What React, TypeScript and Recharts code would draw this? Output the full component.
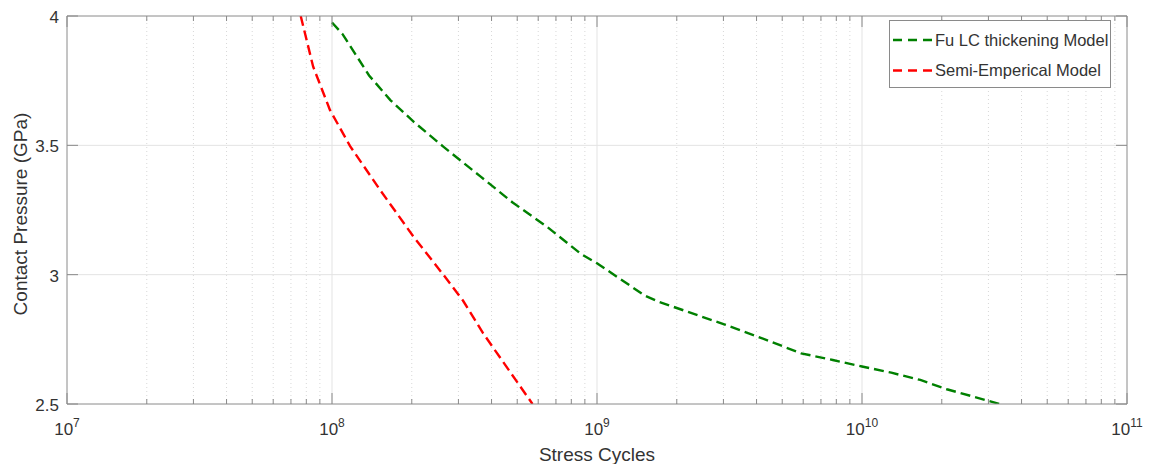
import React from 'react';
import { LineChart, Line, XAxis, YAxis, ReferenceLine, Legend } from 'recharts';

// ---- data ----
const xMajorTicks = [1e7, 1e8, 1e9, 1e10, 1e11];
const xMinorMultipliers = [2, 3, 4, 5, 6, 7, 8, 9];
const yTicks = [2.5, 3, 3.5, 4];
const seriesNames = ['Fu LC thickening Model', 'Semi-Emperical Model'];

const fuCycles = [1.0e8, 1.096e8, 1.38e8, 1.66e8, 2.04e8, 2.63e8, 3.63e8, 4.79e8, 6.46e8, 8.71e8, 1.0e9, 1.51e9, 1.7e9, 3.02e9, 3.98e9, 5.89e9, 7.76e9, 1.0e10, 1.29e10, 1.66e10, 2.09e10, 3.31e10];
const fuPressure = [3.975, 3.93, 3.77, 3.675, 3.59, 3.495, 3.38, 3.28, 3.186, 3.08, 3.044, 2.92, 2.896, 2.808, 2.763, 2.696, 2.67, 2.645, 2.621, 2.593, 2.557, 2.5];

const semiCycles = [7.62e7, 8.49e7, 9.82e7, 1.17e8, 1.52e8, 2.03e8, 2.63e8, 3.12e8, 3.72e8, 5.71e8];
const semiPressure = [4.0, 3.804, 3.637, 3.497, 3.327, 3.147, 3.0, 2.9, 2.773, 2.5];

// ---- derived ----
const fuData = fuCycles.map((x, i) => ({ x, y: fuPressure[i] }));
const semiData = semiCycles.map((x, i) => ({ x, y: semiPressure[i] }));
const xMinorTicks = xMajorTicks.slice(0, -1).flatMap((d) => xMinorMultipliers.map((m) => m * d));
const xAllTicks = [...xMajorTicks, ...xMinorTicks].sort((a, b) => a - b);
const majorInner = xMajorTicks.slice(1, -1);
const yInner = yTicks.slice(1, -1);

const FONT = '"Liberation Sans", Arial, Helvetica, sans-serif';
const AXIS = '#8a8a8a';
const TEXT = '#333333';
const GRID = '#e3e3e3';
const MINOR = '#d8d8d8';
const DASH = '10 5';
const LW = 2.4;

const isMajor = (v: number) => xMajorTicks.indexOf(v) >= 0;

const BottomTick = (props: any) => {
  const { x, y, payload } = props;
  const v = payload.value;
  const major = isMajor(v);
  const exp = Math.round(Math.log10(v));
  return (
    <g>
      <line x1={x} x2={x} y1={y} y2={y - (major ? 11 : 5)} stroke={AXIS} strokeWidth={1} />
      {major && (
        <text x={x} y={y + 31} textAnchor="middle" fontFamily={FONT} fontSize={17} fill={TEXT}>
          10<tspan fontSize={12} dy={-8}>{exp}</tspan>
        </text>
      )}
    </g>
  );
};

const TopTick = (props: any) => {
  const { x, y, payload } = props;
  const major = isMajor(payload.value);
  return <line x1={x} x2={x} y1={y} y2={y + (major ? 11 : 5)} stroke={AXIS} strokeWidth={1} />;
};

const LeftTick = (props: any) => {
  const { x, y, payload } = props;
  return (
    <g>
      <line x1={x} x2={x + 11} y1={y} y2={y} stroke={AXIS} strokeWidth={1} />
      <text x={x - 8} y={y + 1} dy="0.36em" textAnchor="end" fontFamily={FONT} fontSize={17} fill={TEXT}>
        {payload.value}
      </text>
    </g>
  );
};

const RightTick = (props: any) => {
  const { x, y } = props;
  return <line x1={x} x2={x - 11} y1={y} y2={y} stroke={AXIS} strokeWidth={1} />;
};

const XLabel = (props: any) => {
  const vb = props.viewBox || {};
  return (
    <text x={vb.x + vb.width / 2} y={vb.y + 57} textAnchor="middle" fontFamily={FONT} fontSize={19} fill={TEXT}>
      Stress Cycles
    </text>
  );
};

const YLabel = (props: any) => {
  const vb = props.viewBox || {};
  const cx = 19;
  const cy = vb.y + vb.height / 2 + 4;
  return (
    <text x={cx} y={cy} transform={`rotate(-90 ${cx} ${cy})`} textAnchor="middle" fontFamily={FONT} fontSize={19} fill={TEXT}>
      Contact Pressure (GPa)
    </text>
  );
};

const LegendBox = (props: any) => {
  const payload = props.payload || [];
  return (
    <svg width={222} height={68} style={{ display: 'block' }}>
      <rect x={0.5} y={0.5} width={221} height={67} fill="#ffffff" stroke={AXIS} strokeWidth={1} />
      {payload.map((p: any, i: number) => {
        const cy = 20 + 30.5 * i;
        return (
          <g key={i}>
            <line x1={4} x2={43} y1={cy} y2={cy} stroke={p.color} strokeWidth={LW} strokeDasharray="9 6" />
            <text x={46} y={cy} dy="0.36em" fontFamily={FONT} fontSize={16.5} fill={TEXT}>
              {p.value}
            </text>
          </g>
        );
      })}
    </svg>
  );
};

export default function App() {
  return (
    <div style={{ width: 1143, height: 456, background: '#ffffff' }}>
      <LineChart width={1143} height={456} margin={{ top: 0, right: 0, bottom: 0, left: 0 }}>
        <XAxis
          xAxisId="bottom"
          dataKey="x"
          type="number"
          scale="log"
          domain={[1e7, 1e11]}
          allowDataOverflow
          ticks={xAllTicks}
          interval={0}
          height={60}
          stroke={AXIS}
          tickLine={false}
          tickSize={0}
          tickMargin={0}
          tick={<BottomTick />}
          label={<XLabel />}
        />
        <XAxis
          xAxisId="top"
          orientation="top"
          dataKey="x"
          type="number"
          scale="log"
          domain={[1e7, 1e11]}
          allowDataOverflow
          ticks={xAllTicks}
          interval={0}
          height={8}
          stroke={AXIS}
          tickLine={false}
          tickSize={0}
          tickMargin={0}
          tick={<TopTick />}
        />
        <YAxis
          yAxisId="left"
          type="number"
          domain={[2.5, 4]}
          allowDataOverflow
          ticks={yTicks}
          interval={0}
          width={59}
          stroke={AXIS}
          tickLine={false}
          tickSize={0}
          tickMargin={0}
          tick={<LeftTick />}
          label={<YLabel />}
        />
        <YAxis
          yAxisId="right"
          orientation="right"
          type="number"
          domain={[2.5, 4]}
          allowDataOverflow
          ticks={yTicks}
          interval={0}
          width={24}
          stroke={AXIS}
          tickLine={false}
          tickSize={0}
          tickMargin={0}
          tick={<RightTick />}
        />
        {xMinorTicks.map((v) => (
          <ReferenceLine key={'m' + v} xAxisId="bottom" yAxisId="left" x={v} stroke={MINOR} strokeWidth={1} strokeDasharray="1 3" />
        ))}
        {majorInner.map((v) => (
          <ReferenceLine key={'M' + v} xAxisId="bottom" yAxisId="left" x={v} stroke={GRID} strokeWidth={1} />
        ))}
        {yInner.map((v) => (
          <ReferenceLine key={'y' + v} xAxisId="bottom" yAxisId="left" y={v} stroke={GRID} strokeWidth={1} />
        ))}
        <Line
          xAxisId="bottom"
          yAxisId="left"
          data={fuData}
          dataKey="y"
          name={seriesNames[0]}
          type="linear"
          stroke="#008000"
          strokeWidth={LW}
          strokeDasharray={DASH}
          dot={false}
          activeDot={false}
          isAnimationActive={false}
        />
        <Line
          xAxisId="bottom"
          yAxisId="left"
          data={semiData}
          dataKey="y"
          name={seriesNames[1]}
          type="linear"
          stroke="#ff0000"
          strokeWidth={LW}
          strokeDasharray={DASH}
          dot={false}
          activeDot={false}
          isAnimationActive={false}
        />
        <Legend
          layout="vertical"
          align="center"
          verticalAlign="middle"
          content={<LegendBox />}
          wrapperStyle={{ left: 881, top: 12, width: 222, height: 68 }}
        />
      </LineChart>
    </div>
  );
}
